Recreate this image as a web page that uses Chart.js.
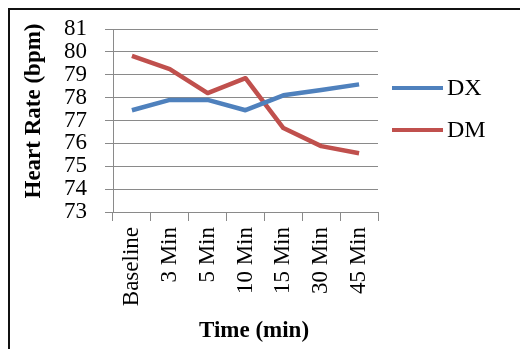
<!DOCTYPE html>
<html>
<head>
<meta charset="utf-8">
<script src="https://cdn.jsdelivr.net/npm/chart.js@4.4.0/dist/chart.umd.min.js"></script>
<style>
  html, body { margin: 0; padding: 0; background: #fff; }
  #wrap { position: relative; width: 520px; height: 349px; overflow: hidden; }
  #frame { position: absolute; left: 8px; top: 8px; width: 600px; height: 400px;
           border-left: 2px solid #111; border-top: 2px solid #111; pointer-events: none; }
  canvas { position: absolute; left: 0; top: 0; }
</style>
</head>
<body>
<div id="wrap">
  <canvas id="c" width="520" height="349"></canvas>
  <div id="frame"></div>
</div>
<script>
const categories = ['Baseline', '3 Min', '5 Min', '10 Min', '15 Min', '30 Min', '45 Min'];
const dxValues = [77.45, 77.9, 77.9, 77.45, 78.1, 78.33, 78.58];
const dmValues = [79.82, 79.25, 78.2, 78.85, 76.67, 75.88, 75.57];
const yTicks = [73, 74, 75, 76, 77, 78, 79, 80, 81];
const yTitle = 'Heart Rate (bpm)';
const xTitle = 'Time (min)';

const SERIF = '"Liberation Serif", "Times New Roman", serif';
const GRID = '#8a8a8a';

const overlayText = {
  id: 'overlayText',
  afterDraw(chart) {
    const ctx = chart.ctx;
    ctx.save();
    ctx.fillStyle = '#000';
    ctx.font = 'bold 23px ' + SERIF;
    ctx.textAlign = 'center';
    ctx.textBaseline = 'middle';
    // y title
    ctx.save();
    ctx.translate(34, 111);
    ctx.rotate(-Math.PI / 2);
    ctx.fillText(yTitle, 0, 0);
    ctx.restore();
    // x title
    ctx.fillText(xTitle, 254, 331);
    // legend
    const ys = [88, 130];
    chart.data.datasets.forEach((ds, i) => {
      ctx.strokeStyle = ds.borderColor;
      ctx.lineWidth = 4;
      ctx.beginPath();
      ctx.moveTo(392, ys[i]);
      ctx.lineTo(443, ys[i]);
      ctx.stroke();
      ctx.fillStyle = '#000';
      ctx.font = '24px ' + SERIF;
      ctx.textAlign = 'left';
      ctx.fillText(ds.label, 447, ys[i] + 1);
    });
    ctx.restore();
  }
};

new Chart(document.getElementById('c'), {
  type: 'line',
  data: {
    labels: categories,
    datasets: [
      { label: 'DX', data: dxValues, borderColor: '#4F81BD', backgroundColor: '#4F81BD',
        borderWidth: 4.5, pointRadius: 0, tension: 0, borderJoinStyle: 'round' },
      { label: 'DM', data: dmValues, borderColor: '#C0504D', backgroundColor: '#C0504D',
        borderWidth: 4.5, pointRadius: 0, tension: 0, borderJoinStyle: 'round' }
    ]
  },
  options: {
    responsive: false,
    animation: false,
    devicePixelRatio: 1,
    layout: { padding: { left: 0, top: 29, right: 142, bottom: 0 } },
    plugins: { legend: { display: false }, tooltip: { enabled: false } },
    scales: {
      x: {
        type: 'category',
        offset: true,
        grid: { offset: true, drawOnChartArea: false, drawTicks: true, tickLength: 9, color: GRID, lineWidth: 1 },
        border: { display: true, color: GRID, width: 1 },
        ticks: { minRotation: 90, maxRotation: 90, autoSkip: false, padding: 6, color: '#000',
                 font: { family: SERIF, size: 23 } },
        afterFit(s) { s.height = 137; s.paddingLeft = 0; s.paddingRight = 0; }
      },
      y: {
        min: 73, max: 81,
        afterBuildTicks(s) { s.ticks = yTicks.map(v => ({ value: v })); },
        grid: { color: GRID, lineWidth: 1, drawTicks: true, tickLength: 8 },
        border: { display: true, color: GRID, width: 1 },
        ticks: { autoSkip: false, padding: 18, color: '#000',
                 font: { family: SERIF, size: 23, lineHeight: 1 } },
        afterFit(s) { s.width = 113; s.paddingTop = 0; s.paddingBottom = 0; }
      }
    }
  },
  plugins: [overlayText]
});
</script>
</body>
</html>
